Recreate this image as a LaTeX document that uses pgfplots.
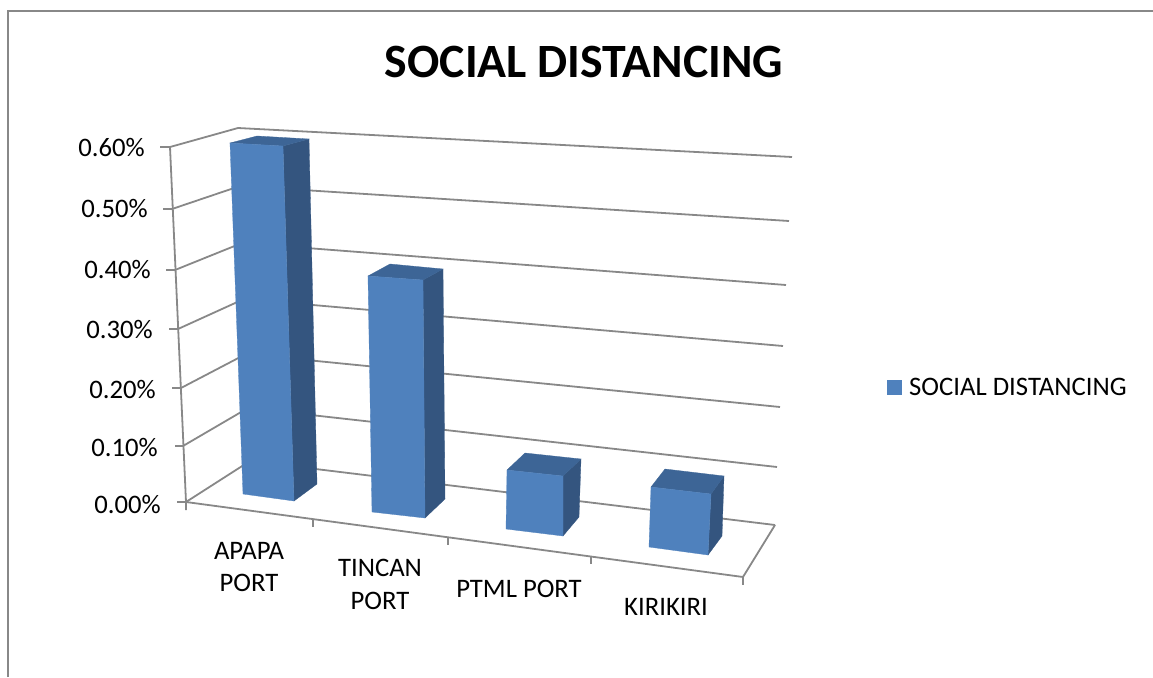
\documentclass[border=0pt]{standalone}
\usepackage{fontspec}
\setmainfont{Carlito}
\usepackage{pgfplots}
\pgfplotsset{compat=1.18}
\definecolor{barfront}{HTML}{4F81BD}
\definecolor{barside}{HTML}{34557F}
\definecolor{bartop}{HTML}{3D6596}
\definecolor{axisgray}{HTML}{888888}
\tikzset{txt/.style={font=\fontsize{26.7}{26.7}\selectfont,inner sep=0pt},gl/.style={draw=axisgray,line width=1.8pt}}
\begin{document}
\begin{tikzpicture}[x=1pt,y=1pt]
\useasboundingbox (0,0) rectangle (1153,677);
\begin{axis}[
  at={(0,0)},anchor=south west,
  width=1153pt,height=677pt,scale only axis,
  xmin=0,xmax=1153,ymin=0,ymax=677,y dir=reverse,
  axis lines=none,clip=true,
  no marks,
]
% chart frame
\addplot[draw=axisgray,line width=2.4pt] coordinates {(8,677)(8,11)(1153,11)};
% side wall grid lines
\addplot[gl] coordinates {(160,147)(170,147)(238,128)};
\addplot[gl] coordinates {(163,209)(172,209)(240,186)};
\addplot[gl] coordinates {(166,270)(175,270)(242,243)};
\addplot[gl] coordinates {(169,329)(178,329)(244,299)};
\addplot[gl] coordinates {(172,388)(181,388)(246,354)};
\addplot[gl] coordinates {(175,446)(183,446)(248,408)};
\addplot[gl] coordinates {(177,502)(186,502)(250,461)};
% back wall grid lines
\addplot[gl] coordinates {(238,128)(792,157)};
\addplot[gl] coordinates {(240,186)(789,221)};
\addplot[gl] coordinates {(242,243)(786,285)};
\addplot[gl] coordinates {(244,299)(783,346)};
\addplot[gl] coordinates {(246,354)(780,407)};
\addplot[gl] coordinates {(248,408)(777,467)};
\addplot[gl] coordinates {(250,461)(775,525)};
% value axis, floor edges and category ticks
\addplot[gl] coordinates {(170,147)(186,502)(186,510)};
\addplot[gl] coordinates {(186,502)(743,577)(775,525)};
\addplot[gl] coordinates {(743,577)(743,585)};
\addplot[gl] coordinates {(313,519)(313,527)};
\addplot[gl] coordinates {(448,537)(448,545)};
\addplot[gl] coordinates {(591,557)(591,564)};
% APAPA PORT 0.60
\addplot[fill=barside,draw=barside,line width=.3pt] coordinates {(283,146)(309,139)(317,484)(294,501)} -- cycle;
\addplot[fill=bartop,draw=bartop,line width=.3pt] coordinates {(230,143)(257,136)(309,139)(283,146)} -- cycle;
\addplot[fill=barfront,draw=barfront,line width=.3pt] coordinates {(230,143)(283,146)(294,501)(243,494)} -- cycle;
% TINCAN PORT 0.40
\addplot[fill=barside,draw=barside,line width=.3pt] coordinates {(423,280)(443,269)(445,499)(425,518)} -- cycle;
\addplot[fill=bartop,draw=bartop,line width=.3pt] coordinates {(368,276)(390,264)(443,269)(423,280)} -- cycle;
\addplot[fill=barfront,draw=barfront,line width=.3pt] coordinates {(368,276)(423,280)(425,518)(372,512)} -- cycle;
% PTML PORT 0.10
\addplot[fill=barside,draw=barside,line width=.3pt] coordinates {(563,476)(581,459)(579,517)(563,536)} -- cycle;
\addplot[fill=bartop,draw=bartop,line width=.3pt] coordinates {(507,470)(525,453)(581,459)(563,476)} -- cycle;
\addplot[fill=barfront,draw=barfront,line width=.3pt] coordinates {(507,470)(563,476)(563,536)(506,529)} -- cycle;
% KIRIKIRI 0.10
\addplot[fill=barside,draw=barside,line width=.3pt] coordinates {(711,494)(724,476)(722,536)(708,555)} -- cycle;
\addplot[fill=bartop,draw=bartop,line width=.3pt] coordinates {(651,487)(665,469)(724,476)(711,494)} -- cycle;
\addplot[fill=barfront,draw=barfront,line width=.3pt] coordinates {(651,487)(711,494)(708,555)(649,547)} -- cycle;
% legend key
\addplot[fill=barfront,draw=none] coordinates {(887,380)(902,380)(902,395)(887,395)} -- cycle;
% texts
\node[font=\fontsize{47.8}{47.8}\selectfont\bfseries] at (axis cs:584,62) {SOCIAL DISTANCING};
\node[txt,anchor=west] at (axis cs:909,387) {SOCIAL DISTANCING};
\node[txt,anchor=east] at (axis cs:145,148) {0.60\%};
\node[txt,anchor=east] at (axis cs:148,209) {0.50\%};
\node[txt,anchor=east] at (axis cs:151,270) {0.40\%};
\node[txt,anchor=east] at (axis cs:153,330) {0.30\%};
\node[txt,anchor=east] at (axis cs:156,389) {0.20\%};
\node[txt,anchor=east] at (axis cs:158,447) {0.10\%};
\node[txt,anchor=east] at (axis cs:161,504) {0.00\%};
\node[txt] at (axis cs:249,551) {APAPA};
\node[txt] at (axis cs:249,583) {PORT};
\node[txt] at (axis cs:380,568) {TINCAN};
\node[txt] at (axis cs:380,601) {PORT};
\node[txt] at (axis cs:519,589) {PTML PORT};
\node[txt] at (axis cs:666,607) {KIRIKIRI};
\end{axis}
\end{tikzpicture}
\end{document}
